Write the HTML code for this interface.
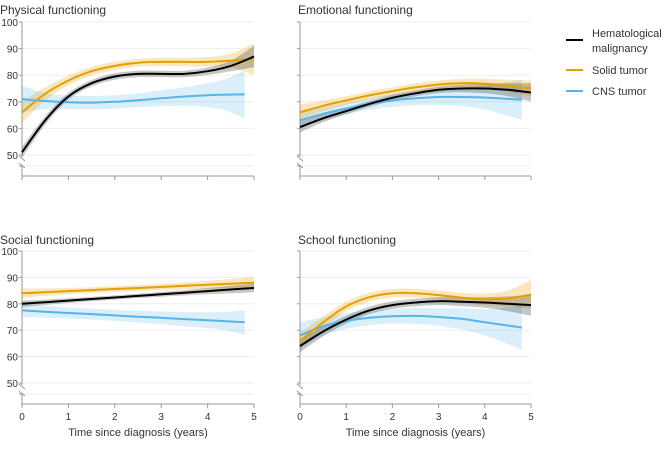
<!DOCTYPE html>
<html><head><meta charset="utf-8"><style>
body{margin:0;background:#fff;font-family:"Liberation Sans",sans-serif}
svg text{font-family:"Liberation Sans",sans-serif;fill:#333}
</style></head><body>
<svg id="c" width="669" height="444"></svg>
<script>
const times=[0,0.5,1,1.5,2,2.5,3,3.5,4,4.5,5];
const cnsTimes=[0,0.5,1,1.5,2,2.5,3,3.5,4,4.4,4.8];
const yTicks=[50,60,70,80,90,100];
const xTicks=[0,1,2,3,4,5];
const panelTitles=["Physical functioning","Emotional functioning","Social functioning","School functioning"];
const hemaVals=[
 [51,63,72,77,79.5,80.5,80.5,80.5,81.5,83.5,87],
 [60.5,63.8,66.5,69.2,71.5,73.2,74.5,75,75,74.5,73.5],
 [80,80.6,81.2,81.8,82.4,83,83.6,84.2,84.8,85.4,86],
 [64,69.5,74,77.5,79.5,80.5,81,80.8,80.5,80,79.5]];
const solidVals=[
 [66,73,78,81.5,83.5,84.7,85,85,85,85.5,86],
 [66,68.5,70.5,72.4,74,75.4,76.5,77,76.8,76,75],
 [84,84.4,84.8,85.2,85.6,86,86.4,86.8,87.2,87.6,88],
 [66,73,79,82.5,84,84,83.3,82.3,81.7,82,83.5]];
const cnsVals=[
 [71,70.3,69.8,69.7,70,70.6,71.3,72,72.5,72.7,72.8],
 [63,65.5,67.5,69.2,70.5,71.3,71.8,71.8,71.6,71.2,70.8],
 [77.5,77,76.5,76.1,75.6,75.1,74.7,74.2,73.8,73.4,73],
 [68,71.5,73.5,74.7,75.3,75.4,75,74.3,73,72,71]];
const hemaCI=[[2,1.6,1.3,1.2,1.2,1.2,1.2,1.2,1.4,2,4],[2,1.5,1.2,1.1,1.1,1.1,1.2,1.4,1.8,2.4,3.4],[1.2,1,0.9,0.8,0.8,0.8,0.9,1,1.2,1.4,1.6],[2.5,1.8,1.5,1.4,1.4,1.4,1.5,1.7,2,2.8,4]];
const solidCI=[[4,2.5,1.8,1.6,1.5,1.5,1.5,1.6,1.8,2.5,6],[3,2,1.6,1.5,1.5,1.5,1.5,1.6,1.8,2.3,3],[1.8,1.4,1.2,1.1,1.1,1.1,1.2,1.3,1.5,1.8,2.2],[3,2.2,1.8,1.7,1.6,1.6,1.7,1.9,2.2,3,5.5]];
const cnsCI=[[5,3,2.5,2.5,2.5,2.6,3,3.5,4.5,6,9],[3,2.5,2.2,2.2,2.4,2.6,3,3.5,4.5,6,7.5],[2.5,2.3,2.1,2,2.1,2.2,2.4,2.7,3,3.5,4.7],[5,3.5,3,2.8,2.8,3,3.3,4,5,6.5,8.5]];
const colors=["#000000","#e69f00","#56b4e9"];
const fills=["rgba(0,0,0,0.22)","rgba(230,159,0,0.25)","rgba(86,180,233,0.22)"];
const names=["hematological","solid-tumor","cns-tumor"];
const panels=[{x0:22,x1:254,y100:22,y50:155,ax:176,ti:10},{x0:300,x1:531,y100:22,y50:155,ax:176,ti:10},{x0:22,x1:254,y100:251,y50:383,ax:404,ti:240},{x0:300,x1:531,y100:251,y50:383,ax:404,ti:240}];
const svg=document.getElementById('c');
const NS="http://www.w3.org/2000/svg";
function mk(tag,attrs,parent){const e=document.createElementNS(NS,tag);for(const k in attrs)e.setAttribute(k,attrs[k]);(parent||svg).appendChild(e);return e;}
function smooth(pts){let d="M"+pts[0][0].toFixed(1)+","+pts[0][1].toFixed(1);for(let i=0;i<pts.length-1;i++){const p0=pts[i-1]||pts[i],p1=pts[i],p2=pts[i+1],p3=pts[i+2]||p2;const c1=[p1[0]+(p2[0]-p0[0])/6,p1[1]+(p2[1]-p0[1])/6],c2=[p2[0]-(p3[0]-p1[0])/6,p2[1]-(p3[1]-p1[1])/6];d+="C"+c1[0].toFixed(1)+","+c1[1].toFixed(1)+" "+c2[0].toFixed(1)+","+c2[1].toFixed(1)+" "+p2[0].toFixed(1)+","+p2[1].toFixed(1);}return d;}
panels.forEach((p,pi)=>{
 const g=mk('g',{});
 
 
 const X=t=>p.x0+(p.x1-p.x0)*t/5, Y=v=>p.y50-(p.y50-p.y100)*(v-50)/50;
 const t=mk('text',{x:pi%2?p.x0-2:0,y:p.ti+4,'font-size':12},g);t.textContent=panelTitles[pi];
 
 yTicks.forEach(v=>{mk('line',{x1:p.x0,x2:p.x1,y1:Y(v),y2:Y(v),stroke:'#eee','stroke-width':1},g);mk('line',{x1:p.x0-3,x2:p.x0,y1:Y(v),y2:Y(v),stroke:'#999'},g);
  if(pi%2==0){const l=mk('text',{x:p.x0-4,y:Y(v)+4,'font-size':10,'text-anchor':'end'},g);l.textContent=v;}});
 const yb=p.ax-10;
 mk('line',{x1:p.x0,x2:p.x1,y1:yb,y2:yb,stroke:'#eee'},g);
 mk('line',{x1:p.x0-3,x2:p.x0,y1:yb,y2:yb,stroke:'#999'},g);
 mk('line',{x1:p.x0,x2:p.x0,y1:p.y100,y2:p.y50+2,stroke:'#999'},g);
 mk('line',{x1:p.x0,x2:p.x0,y1:p.y50+10,y2:p.ax,stroke:'#999'},g);
 mk('line',{x1:p.x0-3,x2:p.x0+3,y1:p.y50+1,y2:p.y50+6,stroke:'#999'},g);
 mk('line',{x1:p.x0-3,x2:p.x0+3,y1:p.y50+8,y2:p.y50+13,stroke:'#999'},g);
 mk('line',{x1:p.x0,x2:p.x1,y1:p.ax,y2:p.ax,stroke:'#999'},g);
 xTicks.forEach(v=>{mk('line',{x1:X(v),x2:X(v),y1:p.ax,y2:p.ax+4,stroke:'#999'},g);
  if(pi>=2){const l=mk('text',{x:X(v),y:p.ax+16,'font-size':10,'text-anchor':'middle'},g);l.textContent=v;}});
 if(pi>=2){const l=mk('text',{x:(p.x0+p.x1)/2,y:p.ax+32,'font-size':11,'text-anchor':'middle'},g);l.textContent="Time since diagnosis (years)";}
 const series=[[times,hemaVals[pi],hemaCI[pi]],[times,solidVals[pi],solidCI[pi]],[cnsTimes,cnsVals[pi],cnsCI[pi]]];
 [2,1,0].forEach(si=>{const [ts,vs,cs]=series[si];
  const up=ts.map((x,i)=>[X(x),Y(vs[i]+cs[i])]),lo=ts.map((x,i)=>[X(x),Y(vs[i]-cs[i])]).reverse();
  const band=mk('path',{d:smooth(up)+"L"+smooth(lo).slice(1)+"Z",fill:fills[si],stroke:'none'},g);
  
 });
 [2,1,0].forEach(si=>{const [ts,vs]=series[si];
  const ln=mk('path',{d:smooth(ts.map((x,i)=>[X(x),Y(vs[i])])),fill:'none',stroke:colors[si],'stroke-width':2},g);
  
 });
});
const leg=mk('g',{});

[["Hematological","malignancy"],["Solid tumor"],["CNS tumor"]].forEach((lab,i)=>{
 const y=[40,70,91][i];
 mk('line',{x1:566,x2:583,y1:y,y2:y,stroke:colors[i],'stroke-width':2},leg);
 const tx=mk('text',{x:592,y:lab.length>1?y-3:y+4,'font-size':11},leg);
 
 lab.forEach((s,j)=>{const ts=mk('tspan',{x:592,dy:j?15:0},tx);ts.textContent=s;});
});
</script>
</body></html>
